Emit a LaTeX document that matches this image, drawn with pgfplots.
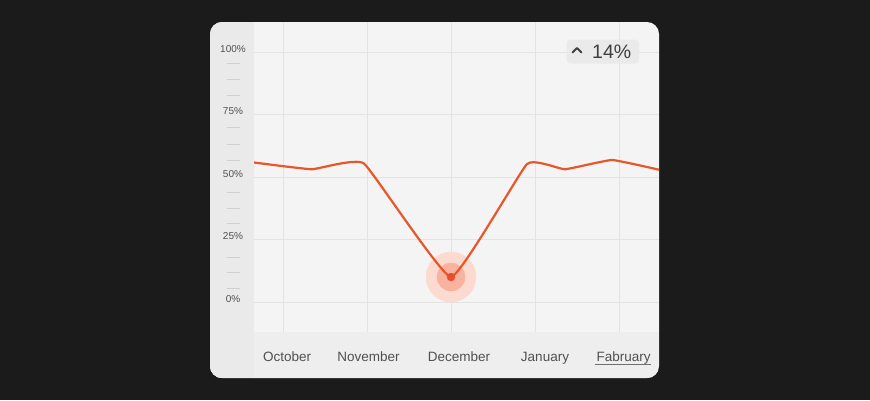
\documentclass[border=0pt]{standalone}
\usepackage{pgfplots}
\pgfplotsset{compat=1.18}
\usepackage{fontspec}
\setmainfont{Liberation Sans}

\definecolor{bgdark}{HTML}{1B1B1B}
\definecolor{cardbg}{HTML}{F4F4F4}
\definecolor{leftstrip}{HTML}{EAEAEA}
\definecolor{bottomstrip}{HTML}{EEEEEE}
\definecolor{gridc}{HTML}{E3E3E3}
\definecolor{dashc}{HTML}{CFCFCF}
\definecolor{pillc}{HTML}{EAEAEA}
\definecolor{textc}{HTML}{3F3F3F}
\definecolor{labelc}{HTML}{505050}
\definecolor{linec}{HTML}{E8572A}
\definecolor{haloout}{HTML}{FCDAD0}
\definecolor{haloin}{HTML}{F8B3A0}
\definecolor{dotc}{HTML}{E5502A}
\definecolor{underc}{HTML}{6F6F6F}

\newcommand\dsh{\textcolor{dashc}{\rule{13pt}{0.7pt}}}

\begin{document}
\begin{tikzpicture}[x=1pt,y=1pt]
\useasboundingbox (0,0) rectangle (870,-400);
\fill[bgdark] (0,0) rectangle (870,-400);
% card and its strips
\fill[cardbg, rounded corners=12pt] (210,-22) rectangle (659,-378);
\begin{scope}
  \clip[rounded corners=12pt] (210,-22) rectangle (659,-378);
  \fill[bottomstrip] (210,-332) rectangle (659,-378);
  \fill[leftstrip] (210,-22) rectangle (254,-378);
\end{scope}

\begin{axis}[
  at={(254pt,-332pt)}, anchor=south west,
  scale only axis, width=405pt, height=310pt,
  xmin=-0.345, xmax=4.476, ymin=-12, ymax=112,
  clip marker paths=true,
  axis line style={draw=none},
  major tick length=0pt,
  ytick={0,25,50,75,100},
  yticklabels={0\%,25\%,50\%,75\%,100\%},
  ymajorgrids,
  grid style={gridc, line width=0.7pt},
  yticklabel style={anchor=center, xshift=-21pt, yshift=3pt,
    font=\fontsize{10}{12}\selectfont, text=labelc},
  extra y ticks={94.4,88,81.6,68.8,62,55.6,42.8,36.4,30.4,16.8,10.8,4.4},
  extra y tick labels={\dsh,\dsh,\dsh,\dsh,\dsh,\dsh,\dsh,\dsh,\dsh,\dsh,\dsh,\dsh},
  extra y tick style={grid=none},
  xtick={0.048,1.018,2.095,3.119,4.054},
  xticklabels={October,November,December,January,Fabruary},
  xticklabel style={anchor=base, yshift=-29pt,
    font=\fontsize{13.5}{16}\selectfont, text=labelc},
  extra x ticks={0,1,2,3,4},
  extra x tick labels={},
  extra x tick style={xmajorgrids=true},
]
\addplot[only marks, mark=*, mark size=25pt, color=haloout]
  coordinates {(2,10)};
\addplot[only marks, mark=*, mark size=14pt, color=haloin]
  coordinates {(2,10)};
\addplot[linec, line width=2.2pt, smooth, tension=0.2, line join=round]
  coordinates {(-0.345,55.8) (0.342,53.1) (0.964,55.4) (2,10) (2.905,55.2)
               (3.357,53.1) (3.917,56.8) (4.49,52.8)};
\addplot[only marks, mark=*, mark size=4pt, color=dotc]
  coordinates {(2,10)};
\end{axis}

% change badge
\fill[pillc, rounded corners=4pt] (566.5,-39.5) rectangle (639,-63.5);
\draw[textc, line width=1.8pt, line cap=round, line join=round]
  (572.5,-52.5) -- (577,-48) -- (581.5,-52.5);
\node[text=textc, font=\fontsize{19.5}{22}\selectfont, inner sep=0pt] at (611.7,-51.7) {14\%};
% active month underline
\draw[underc, line width=1.5pt] (595,-364.3) -- (651,-364.3);
\end{tikzpicture}
\end{document}
